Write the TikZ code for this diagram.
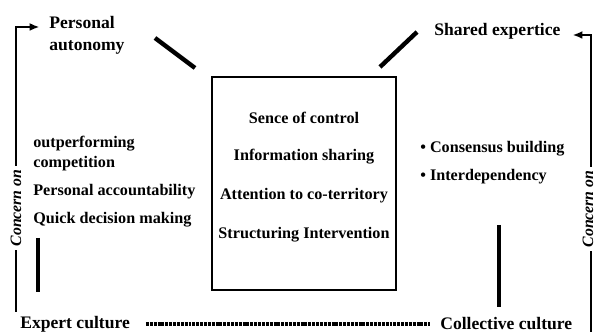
\documentclass[tikz,border=0pt]{standalone}
\usepackage{fontspec}
\setmainfont{Liberation Serif}
\usetikzlibrary{arrows.meta,calc,positioning}

\tikzset{
  corner/.style={font=\bfseries\fontsize{10}{12.5}\selectfont, inner sep=0pt, align=left},
  item/.style={font=\bfseries\fontsize{9.2}{11.4}\selectfont, inner sep=0pt, align=left},
  concern/.style={font=\bfseries\itshape\fontsize{9}{11}\selectfont, rotate=90, fill=white, inner xsep=2pt, inner ysep=1pt},
  bar/.style={line width=2.5pt},
  axis/.style={line width=1pt, ->},
}

\begin{document}
\begin{tikzpicture}[x=0.02cm, y=-0.02cm, >={Latex[length=5.5pt,width=4.5pt]}, node distance=0.775cm]
  \useasboundingbox (0,0) rectangle (594,333);

  \node[corner, anchor=north west] (pa) at (49,16) {Personal\\autonomy};
  \node[corner, anchor=west] (se) at (434,31) {Shared expertice};
  \node[corner, anchor=west] (ec) at (20,324) {Expert culture};
  \node[corner, anchor=west] (cc) at (440,324) {Collective culture};

  \node[draw, rectangle, line width=1pt, minimum width=3.68cm, minimum height=4.26cm] (box) at (304,183.5) {};
  \node[item] (soc) at (304,118) {Sence of control};
  \node[item, below of=soc] (info) {Information sharing};
  \node[item, below of=info] (terr) {Attention to co-territory};
  \node[item, below of=terr] (struct) {Structuring Intervention};

  \node[item, anchor=west] (outp) at (33,154) {outperforming\\competition};
  \node[item, anchor=west] (acc) at (33,192) {Personal accountability};
  \node[item, anchor=west] (quick) at (33,220) {Quick decision making};

  \node[item, anchor=west] (cons) at (420,149) {\textbullet\ Consensus building};
  \node[item, anchor=west] (inter) at (420,177) {\textbullet\ Interdependency};

  \coordinate (lbot) at (16,312);
  \coordinate (ltop) at (16,27);
  \coordinate (rbot) at (591,332);
  \coordinate (rtop) at (591,35);

  \draw[axis, shorten >=5.5pt] (lbot) -- (ltop) -- (ltop -| pa.west);
  \draw[axis, shorten >=6.8pt] (rbot) -- (rtop) -- (rtop -| se.east);
  \node[concern] (lcon) at (16,208) {Concern on};
  \node[concern] (rcon) at (588,209) {Concern on};

  \coordinate (pa1) at (155,38);
  \coordinate (pa2) at (195,68);
  \coordinate (se1) at (417,32);
  \coordinate (se2) at (380,67);
  \coordinate (ex1) at (38,238);
  \coordinate (ex2) at (38,292);
  \coordinate (co1) at (499,225);
  \coordinate (co2) at (499,307);

  \draw[bar] (pa1) -- (pa2);
  \draw[bar] (se1) -- (se2);
  \draw[bar] (ex1) -- (ex2);
  \draw[bar] (co1) -- (co2);

  \draw[line width=2.3pt, dash pattern=on 1.7pt off 0.5pt, shorten <=9pt, shorten >=5.7pt] (ec) -- (cc);

\end{tikzpicture}
\end{document}
